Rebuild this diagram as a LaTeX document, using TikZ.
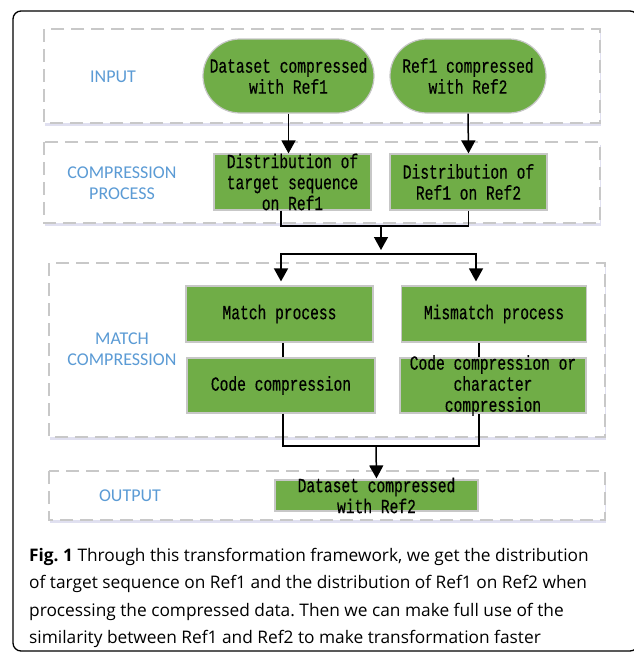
\documentclass[tikz,border=0pt]{standalone}
\usepackage{fontspec}
\setmainfont{Carlito}
\newfontfamily\capfont{Open Sans}
\newfontfamily\monobox[FakeStretch=0.73, FakeBold=0.4]{Liberation Mono}
\usetikzlibrary{arrows.meta, positioning, shadows}
\definecolor{boxgreen}{HTML}{70AD47}
\definecolor{lblblue}{HTML}{5B9BD5}
\definecolor{dashgray}{HTML}{C8C8C8}
\frenchspacing

\begin{document}
\begin{tikzpicture}[x=1pt, y=-1pt,
  region/.style={draw=dashgray, line width=1.6pt, dash pattern=on 13pt off 7pt, fill=white,
    drop shadow={shadow xshift=1pt, shadow yshift=-3pt, opacity=0.12, fill=black!50!blue}},
  gbox/.style={draw=black!22, line width=1.2pt, fill=boxgreen, inner sep=0pt},
  stadium/.style={gbox, rounded corners=37pt, minimum height=74pt},
  txt/.style={font=\monobox\fontsize{20}{21}\selectfont, align=center, inner sep=0pt},
  lbl/.style={font=\fontsize{18}{21}\selectfont, text=lblblue, align=center, inner sep=0pt},
  arr/.style={-{Triangle[width=14pt, length=13pt]}, line width=1.5pt},
  ln/.style={line width=1.5pt}]
  \useasboundingbox (0,0) rectangle (633,653);
  \draw[line width=1.3pt, rounded corners=8pt] (13,11) rectangle (638,651);

  % dashed regions
  \draw[region] (44,29) rectangle (600,123);
  \draw[region] (44,142) rectangle (600,223);
  \draw[region] (49,263) rectangle (605,437);
  \draw[region] (49,471) rectangle (605,520);
  \node[lbl] (inlbl) at (113,77) {INPUT};
  \node[lbl] (cplbl) at (122,183) {COMPRESSION\\PROCESS};
  \node[lbl] (mclbl) at (122,349) {MATCH\\COMPRESSION};
  \node[lbl] (outlbl) at (130,496) {OUTPUT};

  % input
  \node[stadium, minimum width=171pt] (in1) at (288.5,76) {};
  \node[stadium, minimum width=156pt] (in2) at (468,76) {};
  \node[txt] (in1txt) at (in1) {Dataset compressed\\with Ref1};
  \node[txt] (in2txt) at (in2) {Ref1 compressed\\with Ref2};

  % compression process
  \node[gbox, minimum width=157pt, minimum height=56pt] (cp1) at (292.5,182) {};
  \node[gbox, minimum width=157pt, minimum height=56pt] (cp2) at (468.5,182) {};
  \node[txt] (cp1txt) at (cp1) {Distribution of\\target sequence\\on Ref1};
  \node[txt] (cp2txt) at (cp2) {Distribution of\\Ref1 on Ref2};

  % match compression
  \node[gbox, minimum width=187pt, minimum height=56pt] (mp1) at (279.5,314) {};
  \node[gbox, minimum width=188pt, minimum height=55pt] (cc1) at (281,385.5) {};
  \node[gbox, minimum width=185pt, minimum height=56pt] (mp2) at (494,314) {};
  \node[gbox, minimum width=186pt, minimum height=55pt] (cc2) at (493,385.5) {};
  \node[txt] (mp1txt) at (mp1) {Match process};
  \node[txt] (cc1txt) at (cc1) {Code compression};
  \node[txt] (mp2txt) at (mp2) {Mismatch process};
  \node[txt] (cc2txt) at (cc2) {Code compression or\\character\\compression};

  % output
  \node[gbox, minimum width=203pt, minimum height=31pt] (out) at (376.5,495.5) {};
  \node[txt] (outtxt) at (out) {Dataset compressed\\with Ref2};

  \coordinate (j1) at (381,226);
  \coordinate (j2) at (381,250);
  \coordinate (b1) at (381,254);
  \coordinate (j3) at (376,446);

  \draw[arr] (in1.south) -- (in1.south |- cp1.north);
  \draw[arr] (in2.south) -- (cp2.north);
  \draw[ln] ([xshift=-11.5pt]cp1.south) |- (j1) -| (cp2.south);
  \draw[arr] (j1) -- (j2);
  \draw[arr, shorten >=4pt] (b1) -| ([xshift=1.5pt]mp1.north);
  \draw[arr, shorten >=4pt] (b1) -| ([xshift=-18pt]mp2.north);
  \draw[ln] ([xshift=2pt]cc1.north) -- ([xshift=2pt]cc1.north |- mp1.south);
  \draw[ln] ([xshift=-14pt]cc2.north) -- ([xshift=-14pt]cc2.north |- mp2.south);
  \draw[ln] ([xshift=2pt]cc1.south) |- (j3) -| ([xshift=-14pt]cc2.south);
  \draw[arr, shorten >=1pt] (j3) -- (out.north);

  % caption
  \node[anchor=north west, align=left, inner sep=0pt, font=\capfont\fontsize{17.3}{27.5}\selectfont] (cap) at (29,548)
    {\textbf{Fig. 1} Through this transformation framework, we get the distribution\\
     of target sequence on Ref1 and the distribution of Ref1 on Ref2 when\\
     processing the compressed data. Then we can make full use of the\\
     similarity between Ref1 and Ref2 to make transformation faster};
\end{tikzpicture}
\end{document}
